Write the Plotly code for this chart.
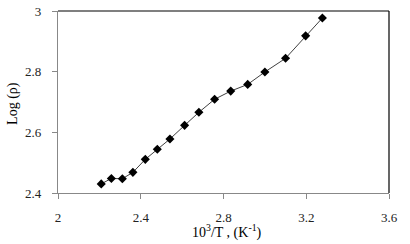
import plotly.graph_objects as go

inv_T = [2.209, 2.258, 2.311, 2.362, 2.422, 2.480, 2.541, 2.612, 2.681, 2.757,
         2.835, 2.917, 3.000, 3.100, 3.197, 3.278]
log_rho = [2.430, 2.448, 2.447, 2.468, 2.511, 2.544, 2.578, 2.623, 2.666, 2.709,
           2.736, 2.758, 2.799, 2.844, 2.918, 2.977]
x_ticks = [2, 2.4, 2.8, 3.2, 3.6]
y_ticks = [2.4, 2.6, 2.8, 3]
x_title = "10<sup>3</sup>/T , (K<sup>-1</sup>)"
y_title = "Log (ρ)"

FONT = "Liberation Serif"

fig = go.Figure()
fig.add_trace(go.Scatter(
    x=inv_T, y=log_rho, mode="lines+markers",
    line=dict(color="#404040", width=1),
    marker=dict(symbol="diamond", size=7, color="black"),
    showlegend=False,
))

# top and right frame lines (black)
fig.add_shape(type="line", xref="x domain", yref="y domain", x0=0, y0=1, x1=1, y1=1,
              line=dict(color="black", width=1.2))
fig.add_shape(type="line", xref="x domain", yref="y domain", x0=1, y0=0, x1=1, y1=1,
              line=dict(color="black", width=1.2))

fig.add_annotation(text=x_title, xref="paper", yref="paper", x=0.51, y=-0.21,
                   xanchor="center", yanchor="middle", showarrow=False,
                   font=dict(size=14))
fig.add_annotation(text=y_title, xref="paper", yref="paper", x=-0.136, y=0.495,
                   xanchor="center", yanchor="middle", showarrow=False, textangle=-90,
                   font=dict(size=14))

fig.update_layout(
    width=410, height=244,
    margin=dict(l=58, r=21, t=11, b=51, autoexpand=False),
    paper_bgcolor="white", plot_bgcolor="white",
    font=dict(family=FONT, size=13, color="black"),
    xaxis=dict(
        range=[2, 3.6], tickvals=x_ticks, ticktext=[f"{v:g}" for v in x_ticks],
        showgrid=False, zeroline=False, showline=True, linecolor="#888888", linewidth=1.2,
        ticks="outside", ticklen=5, tickcolor="#888888", automargin=False,
        ticklabelstandoff=7, tickfont=dict(size=13, color="#222222"),
    ),
    yaxis=dict(
        range=[2.4, 3], tickvals=y_ticks, ticktext=[f"{v:g}" for v in y_ticks],
        showgrid=False, zeroline=False, showline=True, linecolor="#888888", linewidth=1.2,
        ticks="outside", ticklen=5, tickcolor="#888888", automargin=False,
        ticklabelstandoff=8, tickfont=dict(size=13, color="#222222"),
    ),
)

fig.write_html("out.html", config={"displayModeBar": False},
               post_script="document.body.style.margin='0';")
